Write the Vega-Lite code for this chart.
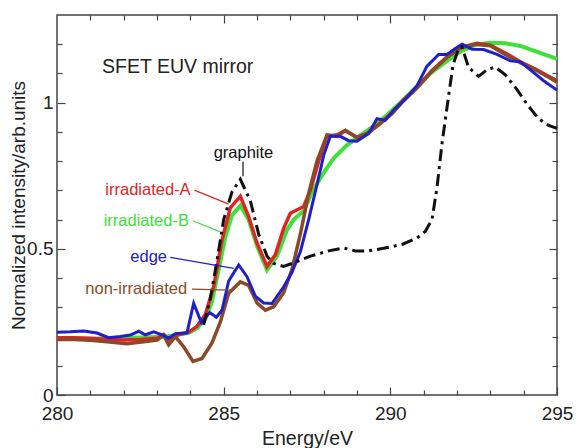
{
  "$schema": "https://vega.github.io/schema/vega-lite/v6.json",
  "width": 500,
  "height": 380,
  "autosize": "none",
  "padding": {"left": 57, "top": 15, "right": 19, "bottom": 53},
  "background": "white",
  "config": {
    "view": {"stroke": "#444", "strokeWidth": 1.5},
    "font": "Liberation Sans",
    "axis": {"grid": false, "domain": false, "tickColor": "#444", "tickWidth": 1.2, "labelColor": "#222", "titleColor": "#222", "titleFontWeight": "normal", "labelFlush": false, "labelOverlap": false}
  },
  "datasets": {
    "spectra": [
      {"series": "irradiated-B", "energy": 280.0, "intensity": 0.193},
      {"series": "irradiated-B", "energy": 280.5, "intensity": 0.193},
      {"series": "irradiated-B", "energy": 281.0, "intensity": 0.192},
      {"series": "irradiated-B", "energy": 281.5, "intensity": 0.195},
      {"series": "irradiated-B", "energy": 282.0, "intensity": 0.196},
      {"series": "irradiated-B", "energy": 282.5, "intensity": 0.197},
      {"series": "irradiated-B", "energy": 283.0, "intensity": 0.198},
      {"series": "irradiated-B", "energy": 283.3, "intensity": 0.2},
      {"series": "irradiated-B", "energy": 283.6, "intensity": 0.205},
      {"series": "irradiated-B", "energy": 283.95, "intensity": 0.213},
      {"series": "irradiated-B", "energy": 284.2, "intensity": 0.228},
      {"series": "irradiated-B", "energy": 284.45, "intensity": 0.26},
      {"series": "irradiated-B", "energy": 284.65, "intensity": 0.32},
      {"series": "irradiated-B", "energy": 284.85, "intensity": 0.43},
      {"series": "irradiated-B", "energy": 285.05, "intensity": 0.54},
      {"series": "irradiated-B", "energy": 285.25, "intensity": 0.615},
      {"series": "irradiated-B", "energy": 285.5, "intensity": 0.648},
      {"series": "irradiated-B", "energy": 285.75, "intensity": 0.6},
      {"series": "irradiated-B", "energy": 286.0, "intensity": 0.51},
      {"series": "irradiated-B", "energy": 286.3, "intensity": 0.428},
      {"series": "irradiated-B", "energy": 286.6, "intensity": 0.475},
      {"series": "irradiated-B", "energy": 286.9, "intensity": 0.565},
      {"series": "irradiated-B", "energy": 287.1, "intensity": 0.6},
      {"series": "irradiated-B", "energy": 287.4, "intensity": 0.63},
      {"series": "irradiated-B", "energy": 287.7, "intensity": 0.705},
      {"series": "irradiated-B", "energy": 288.0, "intensity": 0.76},
      {"series": "irradiated-B", "energy": 288.3, "intensity": 0.81},
      {"series": "irradiated-B", "energy": 288.7, "intensity": 0.855},
      {"series": "irradiated-B", "energy": 289.1, "intensity": 0.888},
      {"series": "irradiated-B", "energy": 289.5, "intensity": 0.92},
      {"series": "irradiated-B", "energy": 289.9, "intensity": 0.958},
      {"series": "irradiated-B", "energy": 290.3, "intensity": 1.0},
      {"series": "irradiated-B", "energy": 290.7, "intensity": 1.045},
      {"series": "irradiated-B", "energy": 291.2, "intensity": 1.1},
      {"series": "irradiated-B", "energy": 291.7, "intensity": 1.143},
      {"series": "irradiated-B", "energy": 292.1, "intensity": 1.175},
      {"series": "irradiated-B", "energy": 292.55, "intensity": 1.198},
      {"series": "irradiated-B", "energy": 293.0, "intensity": 1.205},
      {"series": "irradiated-B", "energy": 293.45, "intensity": 1.203},
      {"series": "irradiated-B", "energy": 293.9, "intensity": 1.194},
      {"series": "irradiated-B", "energy": 294.3, "intensity": 1.178},
      {"series": "irradiated-B", "energy": 294.7, "intensity": 1.162},
      {"series": "irradiated-B", "energy": 295.0, "intensity": 1.15},

      {"series": "irradiated-A", "energy": 280.0, "intensity": 0.196},
      {"series": "irradiated-A", "energy": 280.5, "intensity": 0.196},
      {"series": "irradiated-A", "energy": 281.0, "intensity": 0.194},
      {"series": "irradiated-A", "energy": 281.5, "intensity": 0.19},
      {"series": "irradiated-A", "energy": 282.0, "intensity": 0.188},
      {"series": "irradiated-A", "energy": 282.5, "intensity": 0.19},
      {"series": "irradiated-A", "energy": 283.0, "intensity": 0.194},
      {"series": "irradiated-A", "energy": 283.2, "intensity": 0.207},
      {"series": "irradiated-A", "energy": 283.35, "intensity": 0.19},
      {"series": "irradiated-A", "energy": 283.6, "intensity": 0.205},
      {"series": "irradiated-A", "energy": 283.95, "intensity": 0.215},
      {"series": "irradiated-A", "energy": 284.2, "intensity": 0.235},
      {"series": "irradiated-A", "energy": 284.45, "intensity": 0.275},
      {"series": "irradiated-A", "energy": 284.7, "intensity": 0.37},
      {"series": "irradiated-A", "energy": 284.95, "intensity": 0.53},
      {"series": "irradiated-A", "energy": 285.2, "intensity": 0.64},
      {"series": "irradiated-A", "energy": 285.5, "intensity": 0.68},
      {"series": "irradiated-A", "energy": 285.75, "intensity": 0.61},
      {"series": "irradiated-A", "energy": 286.0, "intensity": 0.52},
      {"series": "irradiated-A", "energy": 286.3, "intensity": 0.44},
      {"series": "irradiated-A", "energy": 286.55, "intensity": 0.48},
      {"series": "irradiated-A", "energy": 286.8, "intensity": 0.57},
      {"series": "irradiated-A", "energy": 287.0, "intensity": 0.622},
      {"series": "irradiated-A", "energy": 287.4, "intensity": 0.645},
      {"series": "irradiated-A", "energy": 287.6, "intensity": 0.7},
      {"series": "irradiated-A", "energy": 287.85, "intensity": 0.8},
      {"series": "irradiated-A", "energy": 288.1, "intensity": 0.885},
      {"series": "irradiated-A", "energy": 288.4, "intensity": 0.89},
      {"series": "irradiated-A", "energy": 288.65, "intensity": 0.905},
      {"series": "irradiated-A", "energy": 289.0, "intensity": 0.882},
      {"series": "irradiated-A", "energy": 289.3, "intensity": 0.895},
      {"series": "irradiated-A", "energy": 289.7, "intensity": 0.93},
      {"series": "irradiated-A", "energy": 290.05, "intensity": 0.965},
      {"series": "irradiated-A", "energy": 290.4, "intensity": 1.01},
      {"series": "irradiated-A", "energy": 290.8, "intensity": 1.052},
      {"series": "irradiated-A", "energy": 291.25, "intensity": 1.11},
      {"series": "irradiated-A", "energy": 291.7, "intensity": 1.157},
      {"series": "irradiated-A", "energy": 292.1, "intensity": 1.188},
      {"series": "irradiated-A", "energy": 292.6, "intensity": 1.203},
      {"series": "irradiated-A", "energy": 293.0, "intensity": 1.197},
      {"series": "irradiated-A", "energy": 293.45, "intensity": 1.17},
      {"series": "irradiated-A", "energy": 293.9, "intensity": 1.14},
      {"series": "irradiated-A", "energy": 294.35, "intensity": 1.115},
      {"series": "irradiated-A", "energy": 294.75, "intensity": 1.09},
      {"series": "irradiated-A", "energy": 295.0, "intensity": 1.075},

      {"series": "non-irradiated", "energy": 280.0, "intensity": 0.19},
      {"series": "non-irradiated", "energy": 280.5, "intensity": 0.19},
      {"series": "non-irradiated", "energy": 281.0, "intensity": 0.187},
      {"series": "non-irradiated", "energy": 281.5, "intensity": 0.182},
      {"series": "non-irradiated", "energy": 282.1, "intensity": 0.175},
      {"series": "non-irradiated", "energy": 282.6, "intensity": 0.182},
      {"series": "non-irradiated", "energy": 283.0, "intensity": 0.188},
      {"series": "non-irradiated", "energy": 283.2, "intensity": 0.205},
      {"series": "non-irradiated", "energy": 283.35, "intensity": 0.172},
      {"series": "non-irradiated", "energy": 283.55, "intensity": 0.2},
      {"series": "non-irradiated", "energy": 283.8, "intensity": 0.165},
      {"series": "non-irradiated", "energy": 284.08, "intensity": 0.115},
      {"series": "non-irradiated", "energy": 284.35, "intensity": 0.125},
      {"series": "non-irradiated", "energy": 284.65, "intensity": 0.178},
      {"series": "non-irradiated", "energy": 284.9, "intensity": 0.25},
      {"series": "non-irradiated", "energy": 285.15, "intensity": 0.348},
      {"series": "non-irradiated", "energy": 285.5, "intensity": 0.387},
      {"series": "non-irradiated", "energy": 285.75, "intensity": 0.375},
      {"series": "non-irradiated", "energy": 286.0, "intensity": 0.315},
      {"series": "non-irradiated", "energy": 286.25, "intensity": 0.29},
      {"series": "non-irradiated", "energy": 286.5, "intensity": 0.302},
      {"series": "non-irradiated", "energy": 286.8, "intensity": 0.35},
      {"series": "non-irradiated", "energy": 287.05, "intensity": 0.43},
      {"series": "non-irradiated", "energy": 287.3, "intensity": 0.55},
      {"series": "non-irradiated", "energy": 287.55, "intensity": 0.69},
      {"series": "non-irradiated", "energy": 287.8, "intensity": 0.8},
      {"series": "non-irradiated", "energy": 288.1, "intensity": 0.89},
      {"series": "non-irradiated", "energy": 288.4, "intensity": 0.885},
      {"series": "non-irradiated", "energy": 288.65, "intensity": 0.905},
      {"series": "non-irradiated", "energy": 289.0, "intensity": 0.88},
      {"series": "non-irradiated", "energy": 289.3, "intensity": 0.893},
      {"series": "non-irradiated", "energy": 289.7, "intensity": 0.928},
      {"series": "non-irradiated", "energy": 290.05, "intensity": 0.962},
      {"series": "non-irradiated", "energy": 290.4, "intensity": 1.007},
      {"series": "non-irradiated", "energy": 290.8, "intensity": 1.05},
      {"series": "non-irradiated", "energy": 291.25, "intensity": 1.108},
      {"series": "non-irradiated", "energy": 291.7, "intensity": 1.155},
      {"series": "non-irradiated", "energy": 292.1, "intensity": 1.188},
      {"series": "non-irradiated", "energy": 292.55, "intensity": 1.2},
      {"series": "non-irradiated", "energy": 293.0, "intensity": 1.195},
      {"series": "non-irradiated", "energy": 293.45, "intensity": 1.165},
      {"series": "non-irradiated", "energy": 293.9, "intensity": 1.137},
      {"series": "non-irradiated", "energy": 294.35, "intensity": 1.113},
      {"series": "non-irradiated", "energy": 294.75, "intensity": 1.087},
      {"series": "non-irradiated", "energy": 295.0, "intensity": 1.07},

      {"series": "edge", "energy": 280.0, "intensity": 0.215},
      {"series": "edge", "energy": 280.4, "intensity": 0.216},
      {"series": "edge", "energy": 280.8, "intensity": 0.219},
      {"series": "edge", "energy": 281.2, "intensity": 0.212},
      {"series": "edge", "energy": 281.55, "intensity": 0.196},
      {"series": "edge", "energy": 281.9, "intensity": 0.2},
      {"series": "edge", "energy": 282.2, "intensity": 0.205},
      {"series": "edge", "energy": 282.45, "intensity": 0.218},
      {"series": "edge", "energy": 282.65, "intensity": 0.206},
      {"series": "edge", "energy": 282.9, "intensity": 0.216},
      {"series": "edge", "energy": 283.15, "intensity": 0.206},
      {"series": "edge", "energy": 283.35, "intensity": 0.194},
      {"series": "edge", "energy": 283.55, "intensity": 0.21},
      {"series": "edge", "energy": 283.9, "intensity": 0.213},
      {"series": "edge", "energy": 284.1, "intensity": 0.314},
      {"series": "edge", "energy": 284.33, "intensity": 0.248},
      {"series": "edge", "energy": 284.58, "intensity": 0.282},
      {"series": "edge", "energy": 284.78, "intensity": 0.266},
      {"series": "edge", "energy": 284.95, "intensity": 0.29},
      {"series": "edge", "energy": 285.15, "intensity": 0.39},
      {"series": "edge", "energy": 285.45, "intensity": 0.445},
      {"series": "edge", "energy": 285.7, "intensity": 0.405},
      {"series": "edge", "energy": 285.95, "intensity": 0.338},
      {"series": "edge", "energy": 286.2, "intensity": 0.315},
      {"series": "edge", "energy": 286.45, "intensity": 0.313},
      {"series": "edge", "energy": 286.8, "intensity": 0.37},
      {"series": "edge", "energy": 287.05, "intensity": 0.42},
      {"series": "edge", "energy": 287.3, "intensity": 0.49},
      {"series": "edge", "energy": 287.55, "intensity": 0.6},
      {"series": "edge", "energy": 287.8, "intensity": 0.72},
      {"series": "edge", "energy": 288.0, "intensity": 0.82},
      {"series": "edge", "energy": 288.2, "intensity": 0.885},
      {"series": "edge", "energy": 288.5, "intensity": 0.885},
      {"series": "edge", "energy": 288.75, "intensity": 0.87},
      {"series": "edge", "energy": 289.0, "intensity": 0.868},
      {"series": "edge", "energy": 289.35, "intensity": 0.895},
      {"series": "edge", "energy": 289.6, "intensity": 0.945},
      {"series": "edge", "energy": 289.85, "intensity": 0.94},
      {"series": "edge", "energy": 290.1, "intensity": 0.975},
      {"series": "edge", "energy": 290.45, "intensity": 1.012},
      {"series": "edge", "energy": 290.8, "intensity": 1.058},
      {"series": "edge", "energy": 291.1, "intensity": 1.125},
      {"series": "edge", "energy": 291.45, "intensity": 1.165},
      {"series": "edge", "energy": 291.7, "intensity": 1.165},
      {"series": "edge", "energy": 291.95, "intensity": 1.185},
      {"series": "edge", "energy": 292.15, "intensity": 1.2},
      {"series": "edge", "energy": 292.45, "intensity": 1.183},
      {"series": "edge", "energy": 292.8, "intensity": 1.182},
      {"series": "edge", "energy": 293.2, "intensity": 1.165},
      {"series": "edge", "energy": 293.6, "intensity": 1.143},
      {"series": "edge", "energy": 293.9, "intensity": 1.14},
      {"series": "edge", "energy": 294.2, "intensity": 1.112},
      {"series": "edge", "energy": 294.6, "intensity": 1.075},
      {"series": "edge", "energy": 295.0, "intensity": 1.043},

      {"series": "graphite", "energy": 284.4, "intensity": 0.24},
      {"series": "graphite", "energy": 284.6, "intensity": 0.33},
      {"series": "graphite", "energy": 284.8, "intensity": 0.46},
      {"series": "graphite", "energy": 285.0, "intensity": 0.6},
      {"series": "graphite", "energy": 285.25, "intensity": 0.695},
      {"series": "graphite", "energy": 285.5, "intensity": 0.738},
      {"series": "graphite", "energy": 285.8, "intensity": 0.665},
      {"series": "graphite", "energy": 286.05, "intensity": 0.55},
      {"series": "graphite", "energy": 286.3, "intensity": 0.475},
      {"series": "graphite", "energy": 286.5, "intensity": 0.45},
      {"series": "graphite", "energy": 286.8, "intensity": 0.44},
      {"series": "graphite", "energy": 287.1, "intensity": 0.452},
      {"series": "graphite", "energy": 287.6, "intensity": 0.475},
      {"series": "graphite", "energy": 288.15, "intensity": 0.493},
      {"series": "graphite", "energy": 288.6, "intensity": 0.503},
      {"series": "graphite", "energy": 288.95, "intensity": 0.493},
      {"series": "graphite", "energy": 289.3, "intensity": 0.492},
      {"series": "graphite", "energy": 289.8, "intensity": 0.502},
      {"series": "graphite", "energy": 290.35, "intensity": 0.515},
      {"series": "graphite", "energy": 290.8, "intensity": 0.537},
      {"series": "graphite", "energy": 291.05, "intensity": 0.56},
      {"series": "graphite", "energy": 291.25, "intensity": 0.6},
      {"series": "graphite", "energy": 291.4, "intensity": 0.71},
      {"series": "graphite", "energy": 291.55, "intensity": 0.86},
      {"series": "graphite", "energy": 291.72, "intensity": 1.0},
      {"series": "graphite", "energy": 291.88, "intensity": 1.13},
      {"series": "graphite", "energy": 292.05, "intensity": 1.185},
      {"series": "graphite", "energy": 292.15, "intensity": 1.19},
      {"series": "graphite", "energy": 292.35, "intensity": 1.12},
      {"series": "graphite", "energy": 292.65, "intensity": 1.09},
      {"series": "graphite", "energy": 292.9, "intensity": 1.113},
      {"series": "graphite", "energy": 293.15, "intensity": 1.122},
      {"series": "graphite", "energy": 293.45, "intensity": 1.095},
      {"series": "graphite", "energy": 293.8, "intensity": 1.045},
      {"series": "graphite", "energy": 294.1, "intensity": 0.995},
      {"series": "graphite", "energy": 294.45, "intensity": 0.945},
      {"series": "graphite", "energy": 294.75, "intensity": 0.922},
      {"series": "graphite", "energy": 295.0, "intensity": 0.912}
    ],
    "labels": [
      {"series": "graphite", "text": "graphite", "energy": 284.7, "intensity": 0.827},
      {"series": "irradiated-A", "text": "irradiated-A", "energy": 281.45, "intensity": 0.701},
      {"series": "irradiated-B", "text": "irradiated-B", "energy": 281.4, "intensity": 0.596},
      {"series": "edge", "text": "edge", "energy": 282.2, "intensity": 0.471},
      {"series": "non-irradiated", "text": "non-irradiated", "energy": 280.85, "intensity": 0.362}
    ],
    "leaders": [
      {"series": "graphite", "energy": 285.58, "intensity": 0.798, "energy2": 285.58, "intensity2": 0.748},
      {"series": "irradiated-A", "energy": 284.12, "intensity": 0.701, "energy2": 285.15, "intensity2": 0.653},
      {"series": "irradiated-B", "energy": 284.07, "intensity": 0.596, "energy2": 284.88, "intensity2": 0.559},
      {"series": "edge", "energy": 283.4, "intensity": 0.471, "energy2": 285.3, "intensity2": 0.433},
      {"series": "non-irradiated", "energy": 284.05, "intensity": 0.362, "energy2": 285.2, "intensity2": 0.359}
    ],
    "caption": [
      {"text": "SFET EUV mirror", "energy": 281.35, "intensity": 1.123}
    ]
  },
  "layer": [
    {
      "data": {"name": "spectra"},
      "transform": [{"filter": "datum.series === 'irradiated-B'"}],
      "mark": {"type": "line", "strokeWidth": 4},
      "encoding": {
        "x": {"field": "energy", "type": "quantitative", "scale": {"domain": [280, 295], "nice": false, "zero": false},
          "axis": {"orient": "bottom", "values": [280,281,282,283,284,285,286,287,288,289,290,291,292,293,294,295],
            "labelExpr": "datum.value % 5 === 0 ? datum.label : ''",
            "tickSize": {"condition": {"test": "datum.value % 5 === 0", "value": -8}, "value": -5},
            "labelFontSize": 19, "labelPadding": 17,
            "title": "Energy/eV", "titleFontSize": 19.5, "titleY": 43, "titleBaseline": "middle"}},
        "y": {"field": "intensity", "type": "quantitative", "scale": {"domain": [0, 1.3], "nice": false, "zero": false},
          "axis": {"orient": "left", "values": [0,0.1,0.2,0.3,0.4,0.5,0.6,0.7,0.8,0.9,1,1.1,1.2],
            "labelExpr": "abs(datum.value*2 - round(datum.value*2)) < 0.001 ? format(datum.value, '~g') : ''",
            "tickSize": {"condition": {"test": "abs(datum.value*2 - round(datum.value*2)) < 0.001", "value": -8}, "value": -5},
            "labelFontSize": 19, "labelPadding": 12,
            "title": "Normalized intensity/arb.units", "titleFontSize": 19, "titleX": -39, "titleY": 190, "titleAngle": -90, "titleAlign": "center", "titleBaseline": "middle"}},
        "color": {"field": "series", "type": "nominal", "legend": null,
          "scale": {"domain": ["irradiated-A", "irradiated-B", "edge", "non-irradiated", "graphite"], "range": ["#e02424", "#3ee03a", "#2020c8", "#8a4a28", "#111111"]}}
      }
    },
    {
      "data": {"name": "spectra"},
      "transform": [{"filter": "datum.series === 'irradiated-A'"}],
      "mark": {"type": "line", "strokeWidth": 3.5},
      "encoding": {
        "x": {"field": "energy", "type": "quantitative",
          "axis": {"orient": "top", "values": [281,282,283,284,285,286,287,288,289,290,291,292,293,294], "labels": false, "title": null,
            "tickSize": {"condition": {"test": "datum.value % 5 === 0", "value": -8}, "value": -5}}},
        "y": {"field": "intensity", "type": "quantitative",
          "axis": {"orient": "right", "values": [0.1,0.2,0.3,0.4,0.5,0.6,0.7,0.8,0.9,1,1.1,1.2], "labels": false, "title": null,
            "tickSize": {"condition": {"test": "abs(datum.value*2 - round(datum.value*2)) < 0.001", "value": -8}, "value": -5}}},
        "color": {"field": "series", "type": "nominal", "legend": null}
      }
    },
    {
      "data": {"name": "spectra"},
      "transform": [{"filter": "datum.series === 'non-irradiated'"}],
      "mark": {"type": "line", "strokeWidth": 3.5},
      "encoding": {
        "x": {"field": "energy", "type": "quantitative", "axis": null},
        "y": {"field": "intensity", "type": "quantitative", "axis": null},
        "color": {"field": "series", "type": "nominal", "legend": null}
      }
    },
    {
      "data": {"name": "spectra"},
      "transform": [{"filter": "datum.series === 'edge'"}],
      "mark": {"type": "line", "strokeWidth": 3},
      "encoding": {
        "x": {"field": "energy", "type": "quantitative", "axis": null},
        "y": {"field": "intensity", "type": "quantitative", "axis": null},
        "color": {"field": "series", "type": "nominal", "legend": null}
      }
    },
    {
      "data": {"name": "spectra"},
      "transform": [{"filter": "datum.series === 'graphite'"}],
      "mark": {"type": "line", "strokeWidth": 3, "strokeDash": [12, 5, 3, 5]},
      "encoding": {
        "x": {"field": "energy", "type": "quantitative", "axis": null},
        "y": {"field": "intensity", "type": "quantitative", "axis": null},
        "color": {"field": "series", "type": "nominal", "legend": null}
      }
    },
    {
      "data": {"name": "leaders"},
      "mark": {"type": "rule", "strokeWidth": 1.2},
      "encoding": {
        "x": {"field": "energy", "type": "quantitative", "axis": null},
        "y": {"field": "intensity", "type": "quantitative", "axis": null},
        "x2": {"field": "energy2"},
        "y2": {"field": "intensity2"},
        "color": {"field": "series", "type": "nominal", "legend": null}
      }
    },
    {
      "data": {"name": "labels"},
      "mark": {"type": "text", "align": "left", "baseline": "middle", "fontSize": 16.5},
      "encoding": {
        "x": {"field": "energy", "type": "quantitative", "axis": null},
        "y": {"field": "intensity", "type": "quantitative", "axis": null},
        "text": {"field": "text"},
        "color": {"field": "series", "type": "nominal", "legend": null}
      }
    },
    {
      "data": {"name": "caption"},
      "mark": {"type": "text", "align": "left", "baseline": "middle", "fontSize": 19.5, "color": "#222"},
      "encoding": {
        "x": {"field": "energy", "type": "quantitative", "axis": null},
        "y": {"field": "intensity", "type": "quantitative", "axis": null},
        "text": {"field": "text"}
      }
    }
  ],
  "resolve": {"axis": {"x": "independent", "y": "independent"}}
}
